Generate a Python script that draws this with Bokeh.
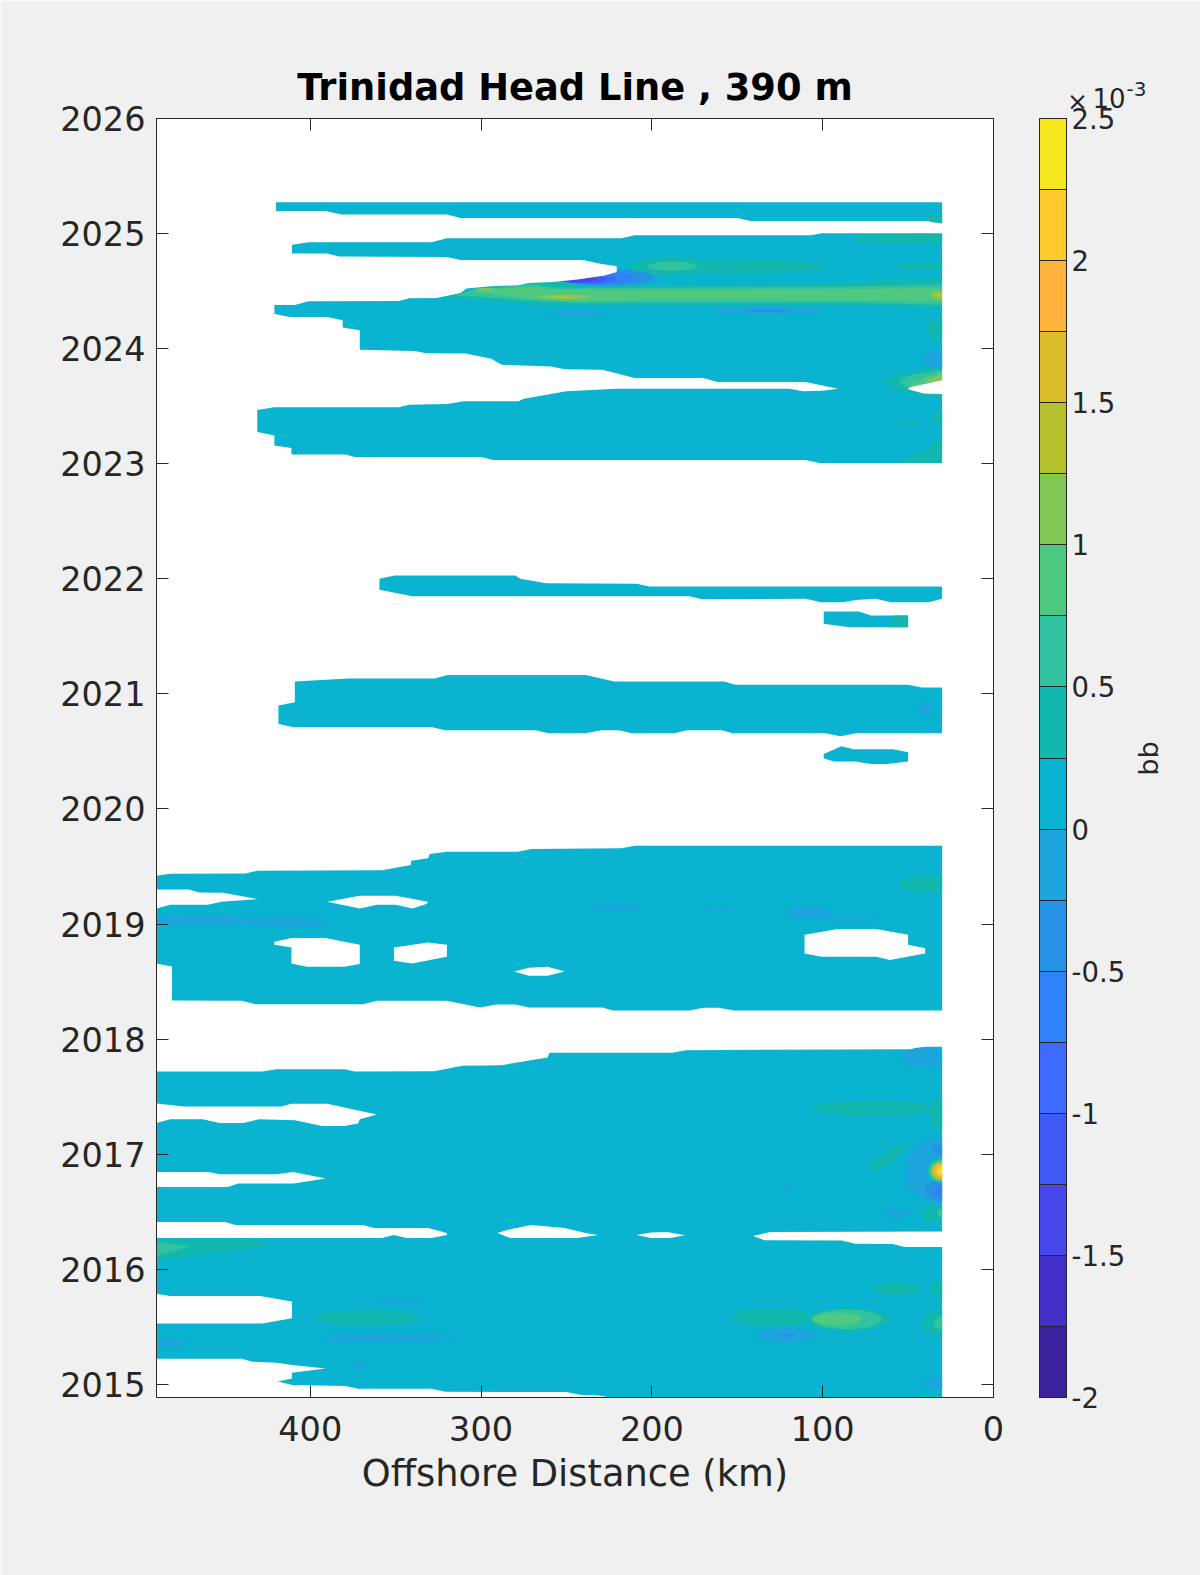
import numpy as np
from bokeh.embed import file_html
from bokeh.resources import INLINE
from bokeh.plotting import figure
from bokeh.models import (ColorBar, ColumnDataSource, CustomLabelingPolicy, FixedTicker, Label, LinearAxis, LinearColorMapper, Range1d)

title = "Trinidad Head Line , 390 m"
x_label = "Offshore Distance (km)"
cbar_label = "bb"
x_ticks = [0, 100, 200, 300, 400]
y_ticks = list(range(2015, 2027))
levels = [-2.0, -1.75, -1.5, -1.25, -1.0, -0.75, -0.5, -0.25, 0.0, 0.25, 0.5, 0.75, 1.0, 1.25, 1.5, 1.75, 2.0, 2.25, 2.5]
cbar_labels = {-2.0: "-2", -1.5: "-1.5", -1.0: "-1", -0.5: "-0.5", 0.0: "0", 0.5: "0.5", 1.0: "1", 1.5: "1.5", 2.0: "2", 2.5: "2.5"}
palette = ["#3a229c", "#4330c6", "#4547eb", "#3f5af8", "#3d6bff", "#2f82f8", "#2592e3", "#1da6dd", "#0ab3d0",
           "#12b8b0", "#32c29f", "#4fc880", "#83c854", "#b5c12f", "#dcbc2a", "#fdb33c", "#fdcb2e", "#f6e61f"]

# Outlines of the sampled areas (distance km, decimal year); base band 0 to 0.25 (x 1e-3)
strip_2025 = [(420, 2025.272), (30, 2025.272), (30, 2025.11), (142, 2025.11), (150, 2025.136), (312, 2025.136),
              (320, 2025.165), (381.7, 2025.165), (391, 2025.197), (420, 2025.197)]
block_2024 = [(410.7, 2024.904), (401, 2024.925), (329, 2024.925), (320, 2024.96), (218, 2024.96), (210, 2024.985),
              (107, 2024.985), (100.5, 2025.003), (30, 2025.003), (30, 2023.006), (102, 2023.006), (110, 2023.032),
              (293, 2023.032), (300, 2023.058), (374, 2023.058), (379.5, 2023.081), (411, 2023.081), (411, 2023.136),
              (421, 2023.159), (421, 2023.246), (431, 2023.275), (431, 2023.467), (421, 2023.49), (348, 2023.49),
              (342, 2023.513), (320, 2023.52), (310, 2023.542), (278, 2023.542), (275, 2023.565), (250, 2023.63),
              (221, 2023.652), (119.5, 2023.652), (111.5, 2023.629), (100, 2023.635), (91, 2023.652), (110, 2023.71),
              (161.5, 2023.71), (170, 2023.745), (210, 2023.745), (229, 2023.817), (251, 2023.82), (259, 2023.846),
              (288, 2023.861), (294, 2023.913), (309, 2023.957), (332, 2023.96), (339, 2023.98), (371, 2023.99),
              (371, 2024.16), (381, 2024.183), (381, 2024.246), (390, 2024.275), (412, 2024.275), (421, 2024.304),
              (421, 2024.377), (410.7, 2024.6)]
strip_2022 = [(359.5, 2022.0), (350.5, 2022.029), (280, 2022.029), (277, 2022.0), (262, 2021.962), (209, 2021.957),
              (201.5, 2021.933), (30, 2021.933), (30, 2021.826), (38, 2021.797), (60, 2021.797), (69, 2021.826),
              (80.6, 2021.817), (88, 2021.797), (101, 2021.797), (110, 2021.826), (170.6, 2021.823), (178, 2021.849),
              (340, 2021.849), (359.5, 2021.904)]
patch_2021a = [(99.4, 2021.716), (79, 2021.716), (71.6, 2021.681), (50, 2021.681), (50, 2021.58), (84.5, 2021.58), (99.4, 2021.609)]
strip_2021 = [(409, 2021.107), (377.5, 2021.133), (327, 2021.133), (319.6, 2021.165), (238.7, 2021.165), (222, 2021.107),
              (157.7, 2021.107), (151, 2021.08), (50, 2021.08), (42, 2021.055), (30, 2021.055), (30, 2020.658),
              (80.6, 2020.658), (89.6, 2020.632), (98.6, 2020.658), (152.6, 2020.658), (159, 2020.684), (179.6, 2020.684),
              (187, 2020.658), (211.7, 2020.658), (219.4, 2020.684), (229.7, 2020.684), (238.7, 2020.658), (260.5, 2020.658),
              (268, 2020.684), (321, 2020.684), (328.6, 2020.71), (409.6, 2020.71), (418.6, 2020.739), (418.6, 2020.9), (409, 2020.928)]
patch_2020 = [(99.4, 2020.478), (89, 2020.545), (82, 2020.52), (58.8, 2020.52), (50, 2020.493), (50, 2020.412),
              (62.6, 2020.39), (71.6, 2020.39), (80.6, 2020.412), (93.5, 2020.412), (99.4, 2020.44)]
block_2019 = [(30, 2019.681), (210, 2019.681), (218, 2019.658), (270.5, 2019.652), (278.5, 2019.629), (320, 2019.629),
              (330, 2019.609), (331, 2019.571), (341, 2019.55), (341, 2019.513), (358, 2019.467), (431, 2019.464),
              (438, 2019.44), (482, 2019.438), (490, 2019.42), (490, 2019.30), (471, 2019.30), (465, 2019.275),
              (451, 2019.272), (431, 2019.217), (452, 2019.194), (460, 2019.168), (482, 2019.168), (490, 2019.136),
              (490, 2018.658), (481, 2018.632), (481, 2018.336), (440, 2018.333), (432, 2018.304), (369, 2018.304),
              (361, 2018.333), (320, 2018.333), (300.6, 2018.275), (291, 2018.3), (280, 2018.3), (272, 2018.275),
              (229, 2018.275), (223, 2018.249), (178, 2018.249), (170, 2018.272), (161, 2018.272), (152, 2018.249), (30, 2018.249)]
block_2017 = [(30, 2017.933), (40, 2017.933), (48, 2017.913), (180, 2017.904), (188, 2017.881), (260, 2017.881),
              (261, 2017.84), (288, 2017.774), (311, 2017.768), (327.5, 2017.722), (374, 2017.719), (380, 2017.739),
              (420, 2017.739), (428, 2017.719), (490, 2017.719), (490, 2017.44), (474, 2017.414), (417, 2017.414),
              (411, 2017.438), (390, 2017.438), (361, 2017.345), (371, 2017.304), (372, 2017.267), (380, 2017.246),
              (393, 2017.246), (409, 2017.296), (430, 2017.304), (439, 2017.272), (453, 2017.272), (463, 2017.304),
              (482, 2017.304), (490, 2017.272), (490, 2016.846), (459.6, 2016.846), (453, 2016.826), (420, 2016.826),
              (410, 2016.846), (391, 2016.79), (409.6, 2016.745), (442, 2016.745), (448.5, 2016.716), (490, 2016.716),
              (490, 2016.412), (450, 2016.412), (443.7, 2016.386), (369, 2016.386), (362.7, 2016.359), (331, 2016.359),
              (320, 2016.316), (320, 2016.299), (329, 2016.272), (343.6, 2016.272), (351, 2016.299), (358, 2016.272),
              (490, 2016.272), (490, 2015.788), (482, 2015.768), (429.4, 2015.768), (410.7, 2015.72), (410.7, 2015.574),
              (428, 2015.528), (490, 2015.528), (490, 2015.223), (440, 2015.223), (434, 2015.197), (419.5, 2015.188),
              (410.7, 2015.168), (391, 2015.139), (410.7, 2015.101), (410.7, 2015.052), (419, 2015.026), (410.4, 2014.994),
              (379.5, 2014.986), (372, 2014.962), (329, 2014.962), (321, 2014.936), (250, 2014.933), (242, 2014.91),
              (231, 2014.904), (222, 2014.88), (30, 2014.88), (30, 2016.194), (52, 2016.194), (59, 2016.22), (81, 2016.223),
              (89, 2016.25), (133.8, 2016.252), (140.8, 2016.29), (130.6, 2016.325), (30, 2016.328)]
base_outlines = [strip_2025, block_2024, strip_2022, patch_2021a, strip_2021, patch_2020, block_2019, block_2017]

# Gaps without data inside the areas above
gap_2024 = [(490, 2024.826), (390, 2024.826), (383, 2024.8), (320, 2024.797), (312, 2024.771), (240, 2024.771), (231, 2024.739),
            (220.6, 2024.716), (220.6, 2024.667), (227.6, 2024.635), (243.5, 2024.6), (258, 2024.58), (272, 2024.571),
            (278, 2024.551), (294, 2024.542), (308.6, 2024.522), (312, 2024.484), (326, 2024.44), (342, 2024.438),
            (348, 2024.414), (401, 2024.412), (409, 2024.38), (490, 2024.38)]
gap_2023 = [(29, 2023.725), (30, 2023.725), (49, 2023.665), (50, 2023.647), (41, 2023.61), (30, 2023.605), (29, 2023.605)]
gap_2019a = [(390, 2019.194), (371, 2019.246), (350, 2019.246), (331, 2019.194), (332, 2019.174), (340, 2019.136),
             (350, 2019.168), (361, 2019.168), (371, 2019.136)]
gap_2018a = [(421, 2018.846), (411, 2018.878), (391, 2018.878), (371, 2018.82), (371, 2018.652), (380, 2018.629),
             (402, 2018.629), (411, 2018.658), (411, 2018.797), (421, 2018.82)]
gap_2018b = [(351, 2018.797), (331, 2018.84), (320, 2018.82), (320, 2018.716), (340.4, 2018.658), (351, 2018.681)]
gap_2018c = [(280.7, 2018.588), (272, 2018.62), (261, 2018.629), (251, 2018.588), (261, 2018.55), (272, 2018.55)]
gap_2018d = [(110.6, 2018.907), (91, 2018.957), (68.7, 2018.957), (50, 2018.907), (50, 2018.82), (40, 2018.79), (40, 2018.745),
             (60.7, 2018.687), (68.7, 2018.716), (100.6, 2018.716), (110.6, 2018.745)]
gap_2016a = [(290.5, 2016.316), (283, 2016.348), (270.5, 2016.386), (251, 2016.359), (240, 2016.319), (231.7, 2016.299),
             (243.5, 2016.272), (283, 2016.272)]
gap_2016b = [(209, 2016.299), (200.6, 2016.319), (191, 2016.325), (180.5, 2016.296), (189.4, 2016.272), (200.6, 2016.272)]
gap_outlines = [gap_2024, gap_2023, gap_2019a, gap_2018a, gap_2018b, gap_2018c, gap_2018d, gap_2016a, gap_2016b]

# Contour bands drawn as outlines: band midpoint, outline
band_shapes = [
    (0.375, [(322, 2024.43), (310, 2024.5), (290, 2024.54), (272, 2024.575), (245, 2024.6), (222, 2024.56), (200, 2024.55), (100, 2024.57), (30, 2024.62),
             (30, 2024.36), (100, 2024.38), (200, 2024.38), (230, 2024.37), (270, 2024.38), (300, 2024.42)]),
    (0.625, [(315, 2024.46), (305, 2024.51), (290, 2024.53), (270, 2024.56), (255, 2024.53), (220, 2024.53), (150, 2024.535), (80, 2024.54), (30, 2024.56),
             (30, 2024.38), (80, 2024.40), (200, 2024.40), (240, 2024.395), (275, 2024.42), (300, 2024.45)]),
    (0.875, [(305, 2024.49), (300, 2024.52), (285, 2024.525), (272, 2024.54), (260, 2024.52), (220, 2024.51), (150, 2024.515), (80, 2024.52), (30, 2024.53),
             (30, 2024.41), (80, 2024.42), (200, 2024.425), (240, 2024.41), (270, 2024.43), (290, 2024.47)]),
    (0.375, [(65, 2023.72), (56, 2023.79), (42, 2023.82), (30, 2023.85), (30, 2023.58), (45, 2023.59), (58, 2023.64)]),
    (0.625, [(56, 2023.72), (48, 2023.77), (30, 2023.82), (30, 2023.60), (50, 2023.65)]),
    (0.875, [(48, 2023.70), (40, 2023.75), (30, 2023.80), (30, 2023.68), (48, 2023.65)]),
    (1.125, [(40, 2023.72), (30, 2023.78), (30, 2023.70)]),
    (0.375, [(30, 2023.247), (38, 2023.14), (50, 2023.05), (55, 2023.006), (30, 2023.006)]),
    (0.375, [(72, 2016.85), (72, 2016.93), (65, 2017.0), (55, 2017.09), (50, 2017.08), (58, 2016.95), (66, 2016.87)]),
    (0.375, [(490, 2016.265), (430, 2016.265), (425, 2016.2), (460, 2016.13), (490, 2016.07)]),
    (0.625, [(490, 2016.24), (470, 2016.2), (490, 2016.12)]),
    (0.375, [(62, 2021.58), (50, 2021.58), (50, 2021.681), (58, 2021.681)]),
]

# Contour blobs: centre km, centre year, full width km, full height years, band midpoint
blob_km = [43, 30, 188, 154.5, 188, 30, 132, 132, 243, 30, 34, 51, 30,
           225, 225, 232, 238, 240, 243, 298, 251, 251, 30, 30,
           31, 221, 161.5, 108, 84.5, 463, 415, 41, 70, 30,
           30, 30, 30, 30, 30, 30, 30, 30, 30, 30, 30, 30, 30, 30,
           35, 30, 56, 121, 56.5, 30, 367, 355, 348, 482, 371, 130, 85, 85.7, 91.6, 121, 121, 30, 30, 30, 35, 40]
blob_yr = [2024.954, 2025.13, 2024.716, 2024.716, 2024.716, 2024.716, 2024.333, 2024.33, 2024.31, 2024.17, 2023.9, 2023.343, 2023.4,
           2024.62, 2024.62, 2024.615, 2024.61, 2024.605, 2024.60, 2024.515, 2024.45, 2024.445, 2024.465, 2024.465,
           2019.35, 2019.145, 2019.125, 2019.1, 2019.05, 2019.03, 2019.015, 2017.84, 2017.4, 2017.35,
           2016.86, 2016.68, 2016.68, 2017.04, 2016.855, 2016.855, 2016.855, 2016.855, 2016.855, 2016.855, 2016.855, 2016.855, 2016.855, 2016.855,
           2016.49, 2016.49, 2016.49, 2016.716, 2015.83, 2015.826, 2015.58, 2015.405, 2015.725, 2015.36, 2015.165, 2015.58, 2015.565, 2015.565, 2015.568, 2015.425, 2015.425, 2015.535, 2015.535, 2015.01, 2014.89, 2020.87]
blob_w = [80, 20, 51, 114, 29, 60, 64, 25, 35, 18, 14, 14, 12,
          60, 52, 42, 36, 28, 22, 12, 30, 14, 14, 8,
          50, 28, 14, 26, 35, 60, 50, 25, 72, 14,
          44, 20, 10, 12, 18, 16, 14, 13, 12, 10.5, 9, 7, 4.5, 3,
          15, 6, 14, 5, 27, 14, 62, 75, 25, 18, 9, 47, 50, 41, 29, 35, 10, 24, 10, 22, 20, 8]
blob_h = [0.09, 0.08, 0.165, 0.13, 0.08, 0.06, 0.07, 0.03, 0.045, 0.2, 0.15, 0.03, 0.13,
          0.16, 0.14, 0.12, 0.09, 0.07, 0.045, 0.02, 0.04, 0.02, 0.07, 0.04,
          0.15, 0.05, 0.03, 0.1, 0.04, 0.09, 0.07, 0.18, 0.13, 0.3,
          0.58, 0.18, 0.1, 0.1, 0.22, 0.2, 0.18, 0.165, 0.15, 0.135, 0.115, 0.09, 0.055, 0.035,
          0.15, 0.08, 0.07, 0.03, 0.115, 0.145, 0.13, 0.08, 0.05, 0.07, 0.05, 0.16, 0.2, 0.17, 0.11, 0.13, 0.03, 0.23, 0.115, 0.1, 0.04, 0.1]
blob_band = [0.375, 0.375, 0.375, 0.375, 0.625, 0.375, -0.125, -0.375, -0.125, 0.375, -0.125, 0.375, 0.375,
             -0.125, -0.375, -0.625, -0.875, -1.125, -1.375, 1.125, 1.125, 1.375, 1.125, 1.375,
             0.375, -0.125, -0.125, -0.125, -0.125, -0.125, -0.125, -0.125, 0.375, 0.375,
             -0.125, -0.375, -0.625, -0.375, 0.375, 0.625, 0.875, 1.125, 1.375, 1.625, 1.875, 2.125, 2.375, 2.375,
             0.375, 0.625, -0.125, -0.125, 0.375, 0.375, 0.375, -0.125, -0.125, -0.125, -0.125, 0.375, 0.375, 0.625, 0.875, -0.125, -0.375, 0.375, 0.625, -0.125, 0.375, -0.125]

INK = "#262626"
p = figure(frame_width=837, frame_height=1279, x_range=Range1d(490, 0), y_range=Range1d(2014.886, 2026),
           output_backend="svg", toolbar_location=None, background_fill_color="white", border_fill_color="#f0f0f0",
           min_border_left=156, min_border_top=118, min_border_right=207, min_border_bottom=178,
           outline_line_color=INK, outline_line_width=1, title=title)
p.grid.visible = False
p.title.align = "center"
p.title.text_font = "DejaVu Sans"
p.title.text_font_size = "36.8px"
p.title.text_font_style = "bold"
p.title.text_color = "black"
p.title.standoff = 19

mapper = LinearColorMapper(palette=palette, low=levels[0], high=levels[-1])


def split(outlines):
    return [[pt[0] for pt in o] for o in outlines], [[pt[1] for pt in o] for o in outlines]


xs, ys = split(base_outlines)
p.patches(xs, ys, fill_color=palette[8], line_color=None)

order = np.argsort([abs(b[0]) for b in band_shapes], kind="stable")
xs, ys = split([band_shapes[i][1] for i in order])
p.patches("xs", "ys", fill_color={"field": "band", "transform": mapper}, line_color=None,
          source=ColumnDataSource(dict(xs=xs, ys=ys, band=[band_shapes[i][0] for i in order])))

order = np.argsort(np.abs(blob_band), kind="stable")
p.ellipse("km", "yr", width="w", height="h", fill_color={"field": "band", "transform": mapper}, line_color=None,
          source=ColumnDataSource(dict(km=np.array(blob_km, float)[order], yr=np.array(blob_yr)[order], w=np.array(blob_w, float)[order],
                                       h=np.array(blob_h)[order], band=np.array(blob_band)[order])))

xs, ys = split(gap_outlines)
p.patches(xs, ys, fill_color="white", line_color=None)
p.quad(left=[30], right=[0], bottom=[2014.886], top=[2026], fill_color="white", line_color=None)


def style(ax, labelled):
    ax.axis_line_color = INK
    ax.major_tick_line_color = INK
    ax.major_tick_in = 12
    ax.major_tick_out = 0
    ax.minor_tick_line_color = None
    ax.major_label_text_font = "DejaVu Sans"
    ax.major_label_text_font_size = "33.5px"
    ax.major_label_text_color = INK
    if not labelled:
        ax.major_label_text_font_size = "0px"
        ax.major_label_standoff = 0


p.xaxis.ticker = FixedTicker(ticks=x_ticks)
p.yaxis.ticker = FixedTicker(ticks=y_ticks)
style(p.xaxis[0], True)
style(p.yaxis[0], True)
p.xaxis.major_label_standoff = 18
p.yaxis.major_label_standoff = 11
p.xaxis.axis_label = x_label
p.xaxis.axis_label_text_font = "DejaVu Sans"
p.xaxis.axis_label_text_font_size = "36.8px"
p.xaxis.axis_label_text_font_style = "normal"
p.xaxis.axis_label_text_color = INK
p.xaxis.axis_label_standoff = 8

top = LinearAxis(ticker=FixedTicker(ticks=x_ticks))
right = LinearAxis(ticker=FixedTicker(ticks=y_ticks))
style(top, False)
style(right, False)
p.add_layout(top, "above")
p.add_layout(right, "right")

cb = ColorBar(color_mapper=mapper, width=27, height=1279,
              ticker=FixedTicker(ticks=list(cbar_labels), minor_ticks=levels),
              major_label_overrides=cbar_labels,
              major_label_text_font="DejaVu Sans", major_label_text_font_size="27.5px", major_label_text_color=INK,
              major_tick_in=27, major_tick_line_color=INK, major_tick_out=0, minor_tick_out=0, minor_tick_in=27,
              minor_tick_line_color=INK,
              bar_line_color=INK, label_standoff=5, margin=0, padding=0, background_fill_color=None, border_line_color=None,
              location=(46, 0))
p.add_layout(cb, "right")

for txt, x, y, size, ang, alg in [("\u00d7", 1077, 101, "25px", 0, "center"), ("10", 1092, 97, "26px", 0, "left"),
                                  ("-3", 1126, 88, "20px", 0, "left"), (cbar_label, 1148, 758, "27px", np.pi / 2, "center")]:
    p.add_layout(Label(x=x, y=y, x_units="canvas", y_units="canvas", text=txt, text_font="DejaVu Sans", text_font_size=size,
                       text_color=INK, angle=ang, text_align=alg, text_baseline="middle"), "right")

open("out.html", "w").write(file_html(p, INLINE))
